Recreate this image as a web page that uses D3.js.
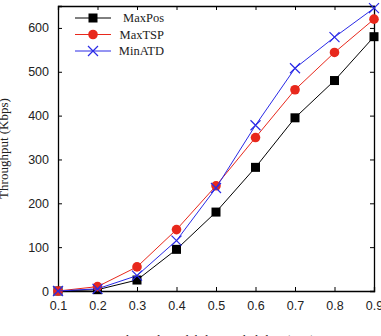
<!DOCTYPE html>
<html>
<head>
<meta charset="utf-8">
<script src="https://cdn.jsdelivr.net/npm/d3@7"></script>
<style>
  body { margin: 0; background: #fff; }
  svg { display: block; font-family: "Liberation Serif", "DejaVu Serif", serif; }
  .axis text { font-size: 12.5px; fill: #222; }
  .axis path, .axis line { stroke: #000; }
</style>
</head>
<body>
<svg width="381" height="336"></svg>
<script>
const probs = [0.1, 0.2, 0.3, 0.4, 0.5, 0.6, 0.7, 0.8, 0.9];
const maxPos = [0, 3, 25, 95, 180, 282, 395, 480, 580];
const maxTSP = [0, 10, 55, 140, 240, 350, 459, 544, 620];
const minATD = [0, 5, 35, 115, 235, 378, 508, 579, 645];
const yTicks = [0, 100, 200, 300, 400, 500, 600];

const series = [
  {name: 'MaxPos', values: maxPos, color: '#000', marker: 'square'},
  {name: 'MaxTSP', values: maxTSP, color: '#e8281c', marker: 'circle'},
  {name: 'MinATD', values: minATD, color: '#2a2ae6', marker: 'cross'}
];

let svg = d3.select('svg');

const margin = {top: 6, right: 7, bottom: 45, left: 58},
    width = +svg.attr('width') - margin.left - margin.right,
    height = +svg.attr('height') - margin.top - margin.bottom;

let g = svg.append('g').attr('transform', `translate(${margin.left}, ${margin.top})`);

let x = d3.scaleLinear().domain([0.1, 0.9]).range([0, width]),
    y = d3.scaleLinear().domain([0, 650]).range([height, 0]);

// axes, ticks pointing inward on all four sides
g.append('g')
    .attr('class', 'axis axis--x')
    .attr('transform', `translate(0, ${height})`)
    .call(d3.axisBottom(x).tickValues(probs).tickSize(-4).tickPadding(10).tickFormat(d3.format('.1f')));

g.append('g')
    .attr('class', 'axis axis--y')
    .call(d3.axisLeft(y).tickValues(yTicks).tickSize(-4).tickPadding(9));

g.append('g')
    .attr('class', 'axis')
    .call(d3.axisTop(x).tickValues(probs).tickSize(-4).tickFormat(''));

g.append('g')
    .attr('class', 'axis')
    .attr('transform', `translate(${width}, 0)`)
    .call(d3.axisRight(y).tickValues(yTicks).tickSize(-4).tickFormat(''));

g.selectAll('.axis path').attr('stroke-width', 1.3);

const line = d3.line()
    .x((d, i) => x(probs[i]))
    .y((d) => y(d));

function drawMarker(sel, type, color) {
  if (type === 'square') {
    sel.append('rect')
      .attr('x', -4.5).attr('y', -4.5).attr('width', 9).attr('height', 9)
      .attr('fill', color);
  } else if (type === 'circle') {
    sel.append('circle').attr('r', 4.8).attr('fill', color);
  } else {
    sel.append('path')
      .attr('d', 'M-5,-5L5,5M-5,5L5,-5')
      .attr('stroke', color).attr('stroke-width', 1.2).attr('fill', 'none');
  }
}

series.forEach((s) => {
  g.append('path')
    .attr('d', line(s.values))
    .attr('fill', 'none')
    .attr('stroke', s.color)
    .attr('stroke-width', 1);

  g.append('g').selectAll('g')
    .data(s.values)
    .enter().append('g')
      .attr('transform', (d, i) => `translate(${x(probs[i])}, ${y(d)})`)
      .each(function() { drawMarker(d3.select(this), s.marker, s.color); });
});

// legend
let legend = g.append('g').attr('transform', 'translate(17, 12)');
series.forEach((s, i) => {
  let row = legend.append('g').attr('transform', `translate(0, ${i * 16.5})`);
  row.append('line')
    .attr('x1', 0).attr('x2', 36)
    .attr('stroke', s.color).attr('stroke-width', 1);
  drawMarker(row.append('g').attr('transform', 'translate(18, 0)'), s.marker, s.color);
  row.append('text')
    .attr('x', 89).attr('y', 4)
    .attr('text-anchor', 'end')
    .attr('font-size', 12.5)
    .attr('fill', '#222')
    .text(s.name);
});

// axis titles
svg.append('text')
    .attr('transform', `translate(8, ${margin.top + height / 2}) rotate(-90)`)
    .attr('text-anchor', 'middle')
    .attr('font-size', 13)
    .attr('fill', '#222')
    .text('Throughput (Kbps)');

svg.append('text')
    .attr('x', margin.left + width / 2)
    .attr('y', 344)
    .attr('text-anchor', 'middle')
    .attr('font-size', 13)
    .attr('fill', '#222')
    .text('Channel availability probability (Pon)');
</script>
</body>
</html>
